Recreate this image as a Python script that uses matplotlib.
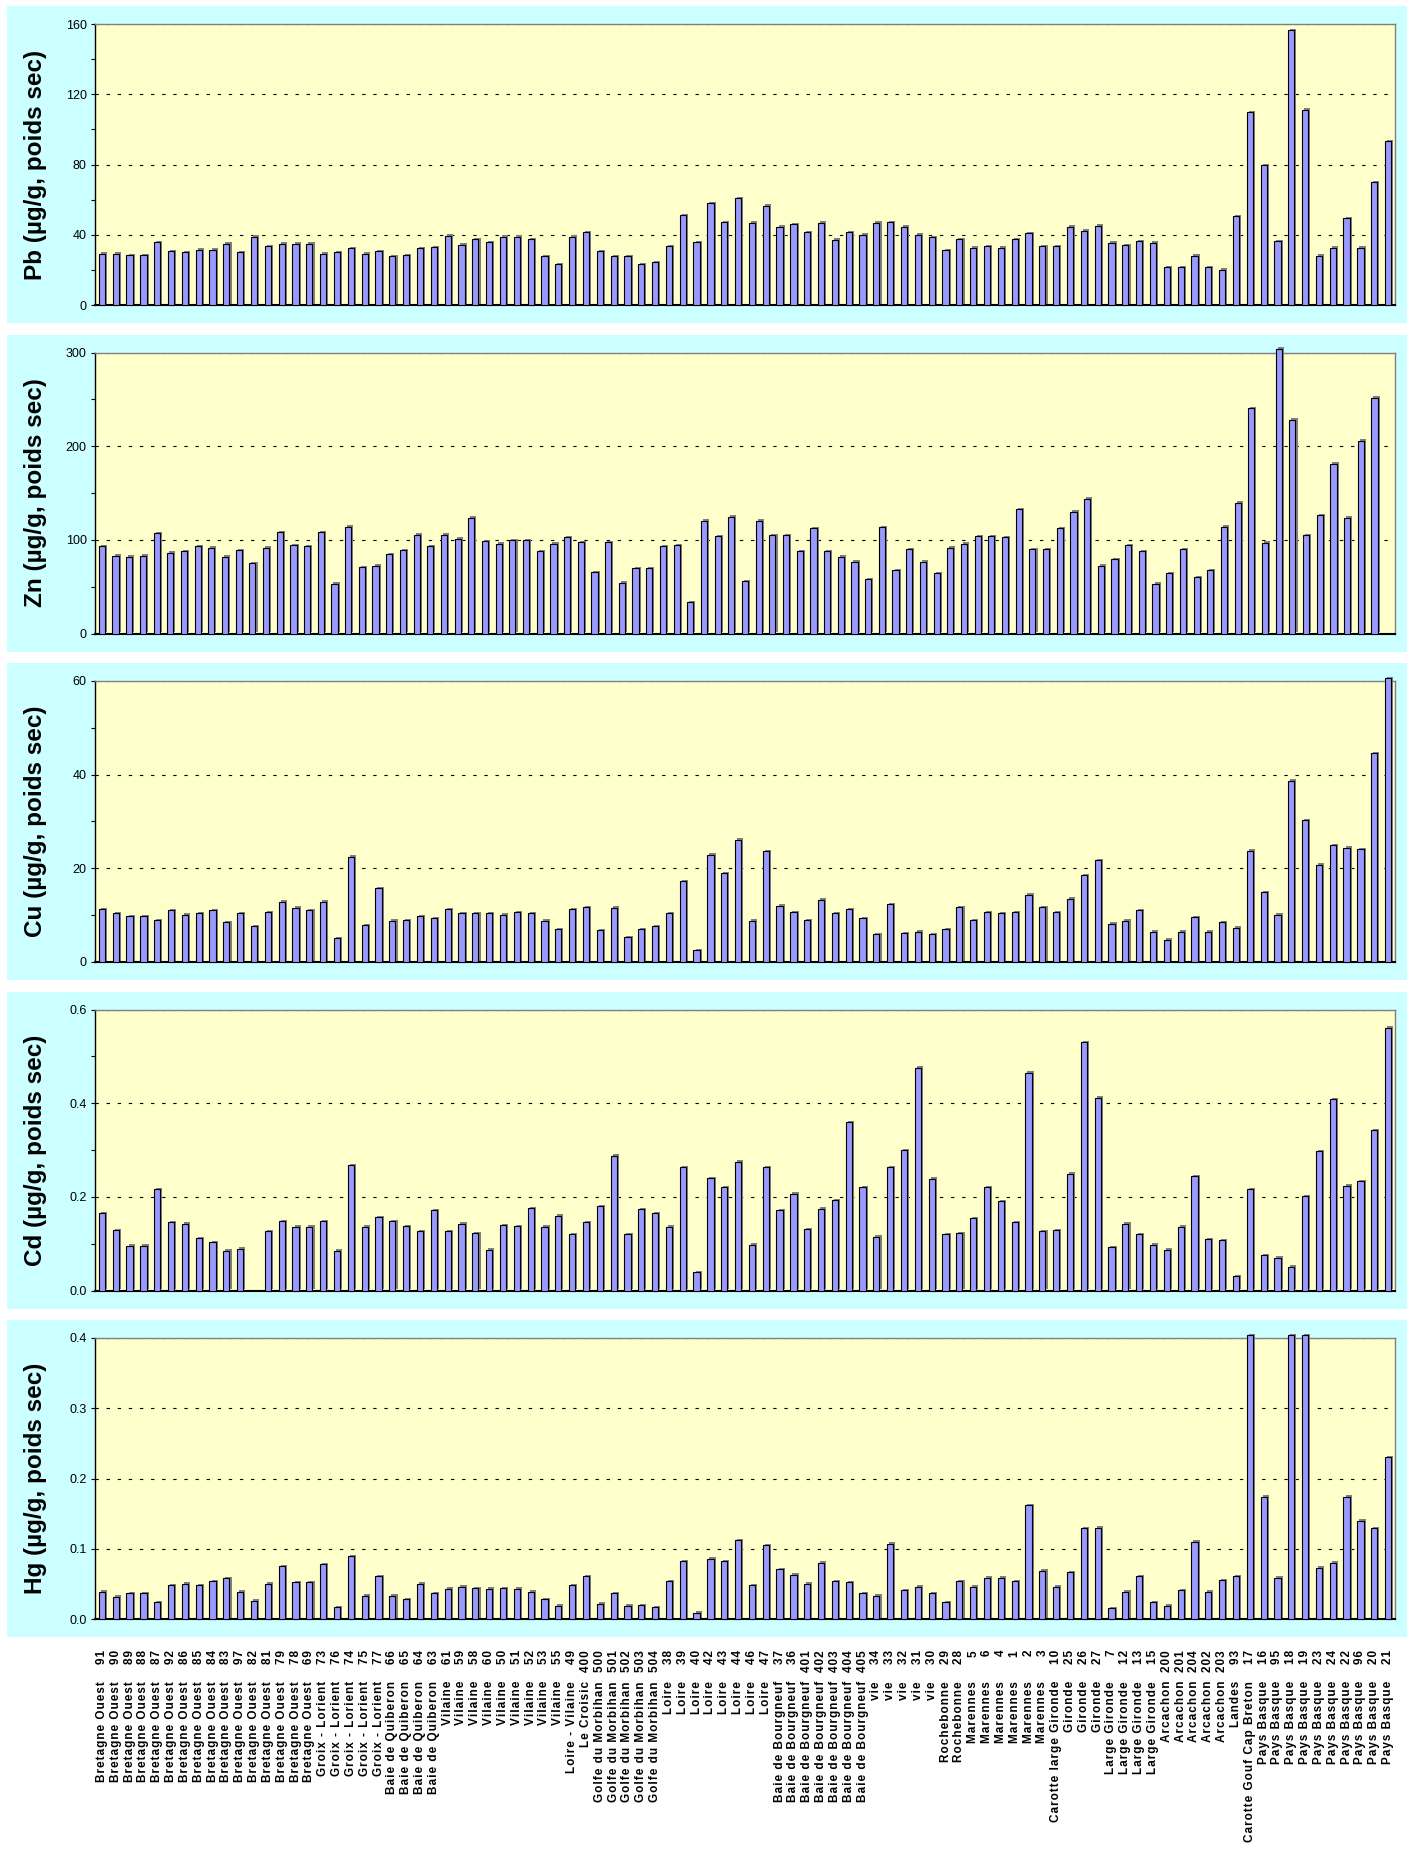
import matplotlib
matplotlib.use('Agg')

import numpy as np
import matplotlib.pyplot as plt
import matplotlib.transforms as mtransforms
from matplotlib.patches import Rectangle
from matplotlib import patheffects
from matplotlib.ticker import MultipleLocator, FormatStrFormatter

plt.rcParams['font.family'] = ['Liberation Sans', 'DejaVu Sans']

## SAMPLING STATIONS ##
site_groups = [
    ("Bretagne Ouest", 16), ("Groix - Lorient", 5), ("Baie de Quiberon", 4),
    ("Vilaine", 9), ("Loire - Vilaine", 1), ("Le Croisic", 1),
    ("Golfe du Morbihan", 5), ("Loire", 8), ("Baie de Bourgneuf", 7),
    ("vie", 5), ("Rochebonne", 2), ("Marennes", 6),
    ("Carotte large Gironde", 1), ("Gironde", 3), ("Large Gironde", 4),
    ("Arcachon", 5), ("Landes", 1), ("Carotte Gouf Cap Breton", 1),
    ("Pays Basque", 10),
]
station_ids = [
    "91", "90", "89", "88", "87", "92", "86", "85", "84", "83", "97", "82", "81", "79", "78", "69",
    "73", "76", "74", "75", "77",
    "66", "65", "64", "63",
    "61", "59", "58", "60", "50", "51", "52", "53", "55",
    "49", "400",
    "500", "501", "502", "503", "504",
    "38", "39", "40", "42", "43", "44", "46", "47",
    "37", "36", "401", "402", "403", "404", "405",
    "34", "33", "32", "31", "30",
    "29", "28",
    "5", "6", "4", "1", "2", "3",
    "10",
    "25", "26", "27",
    "7", "12", "13", "15",
    "200", "201", "204", "202", "203",
    "93", "17",
    "16", "95", "18", "19", "23", "24", "22", "96", "20", "21",
]
sites = [name for name, n in site_groups for _ in range(n)]

## CONCENTRATIONS (ug/g dry weight) ##
pb = [29.2, 29.2, 28.5, 28.5, 35.8, 30.8, 30.1, 31.5, 31.5, 35.0,
      30.1, 38.8, 33.6, 35.0, 35.0, 35.0, 29.2, 30.1, 32.2, 29.2,
      30.8, 27.8, 28.5, 32.2, 32.9, 39.5, 34.4, 37.4, 35.8, 38.8,
      38.8, 37.4, 27.8, 23.1, 38.8, 41.6, 30.8, 27.8, 27.8, 23.1,
      24.2, 33.6, 51.3, 35.8, 57.9, 47.3, 60.7, 46.8, 56.5, 44.5,
      46.1, 41.6, 46.8, 37.2, 41.6, 40.0, 46.8, 47.3, 44.5, 40.0,
      38.6, 31.3, 37.6, 32.7, 33.4, 32.7, 37.6, 40.9, 33.4, 33.4,
      44.5, 42.4, 45.2, 35.5, 34.1, 36.5, 35.5, 21.4, 21.4, 28.0,
      21.4, 20.2, 50.6, 109.9, 79.5, 36.5, 156.5, 111.3, 28.0, 32.7,
      49.6, 32.7, 69.9, 93.4]

zn = [92.9, 83.2, 81.9, 83.2, 106.9, 86.3, 87.6, 92.9, 91.5, 81.9,
      88.9, 75.3, 91.5, 108.2, 94.2, 92.9, 108.2, 53.0, 113.9, 71.0,
      72.3, 84.5, 88.9, 105.6, 92.9, 105.6, 101.2, 123.5, 98.6, 95.9,
      99.9, 99.9, 87.6, 95.9, 102.5, 97.2, 65.3, 97.2, 54.3, 69.6,
      69.6, 92.9, 94.2, 33.7, 120.5, 103.8, 124.8, 55.6, 120.5, 105.1,
      105.1, 87.6, 112.1, 87.6, 81.9, 76.7, 58.3, 113.4, 67.9, 90.2,
      76.7, 64.4, 91.5, 95.9, 103.8, 103.8, 102.5, 132.7, 90.2, 90.2,
      112.1, 130.1, 144.1, 72.3, 79.3, 94.2, 87.6, 53.0, 64.4, 90.2,
      60.0, 67.9, 113.9, 139.7, 240.5, 96.8, 304.0, 228.2, 105.1, 126.1,
      181.3, 123.5, 205.9, 251.9]

cu = [11.3, 10.4, 9.8, 9.8, 8.9, 11.0, 10.1, 10.4, 11.0, 8.5,
      10.4, 7.6, 10.6, 12.9, 11.6, 11.0, 12.9, 5.1, 22.5, 7.9,
      15.7, 8.8, 8.9, 9.8, 9.3, 11.3, 10.4, 10.4, 10.4, 10.1,
      10.6, 10.4, 8.8, 7.0, 11.3, 11.7, 6.8, 11.6, 5.3, 7.0,
      7.6, 10.4, 17.3, 2.5, 22.9, 19.0, 26.1, 8.8, 23.6, 12.0,
      10.6, 8.9, 13.3, 10.4, 11.3, 9.3, 6.0, 12.4, 6.2, 6.5,
      6.0, 7.0, 11.7, 8.9, 10.6, 10.4, 10.6, 14.4, 11.7, 10.6,
      13.5, 18.6, 21.7, 8.2, 8.8, 11.0, 6.5, 4.8, 6.5, 9.6,
      6.5, 8.5, 7.3, 23.8, 14.9, 10.1, 38.7, 30.3, 20.8, 25.0,
      24.4, 24.1, 44.6, 60.6]

cd = [0.165, 0.129, 0.096, 0.096, 0.216, 0.146, 0.143, 0.112, 0.103, 0.085,
      0.089, np.nan, 0.126, 0.148, 0.136, 0.136, 0.148, 0.085, 0.267, 0.136,
      0.157, 0.148, 0.137, 0.126, 0.171, 0.126, 0.143, 0.123, 0.087, 0.139,
      0.137, 0.176, 0.136, 0.160, 0.120, 0.146, 0.180, 0.288, 0.120, 0.173,
      0.165, 0.136, 0.263, 0.039, 0.240, 0.221, 0.275, 0.098, 0.263, 0.171,
      0.207, 0.131, 0.175, 0.193, 0.359, 0.221, 0.115, 0.263, 0.300, 0.476,
      0.239, 0.120, 0.123, 0.154, 0.221, 0.191, 0.146, 0.465, 0.126, 0.129,
      0.249, 0.530, 0.412, 0.092, 0.143, 0.120, 0.098, 0.087, 0.136, 0.244,
      0.110, 0.107, 0.031, 0.216, 0.075, 0.070, 0.051, 0.201, 0.297, 0.409,
      0.224, 0.233, 0.342, 0.561]

hg = [0.039, 0.032, 0.037, 0.037, 0.024, 0.048, 0.050, 0.048, 0.054, 0.058,
      0.039, 0.026, 0.050, 0.075, 0.052, 0.052, 0.078, 0.017, 0.089, 0.033,
      0.061, 0.033, 0.028, 0.050, 0.037, 0.043, 0.046, 0.044, 0.043, 0.044,
      0.043, 0.039, 0.028, 0.019, 0.048, 0.061, 0.022, 0.037, 0.019, 0.020,
      0.017, 0.054, 0.082, 0.009, 0.086, 0.082, 0.112, 0.048, 0.105, 0.071,
      0.063, 0.050, 0.080, 0.054, 0.052, 0.037, 0.033, 0.107, 0.041, 0.046,
      0.037, 0.024, 0.054, 0.046, 0.059, 0.059, 0.054, 0.162, 0.069, 0.046,
      0.067, 0.129, 0.130, 0.015, 0.039, 0.061, 0.024, 0.019, 0.041, 0.110,
      0.039, 0.055, 0.061, 0.404, 0.174, 0.059, 0.404, 0.404, 0.073, 0.080,
      0.174, 0.140, 0.129, 0.230]

# metal, values, ymax, major step, minor step, tick format, number of category slots
panels = [
    ("Pb", pb, 160, 40, 20, '%d', 94),
    ("Zn", zn, 300, 100, 50, '%d', 95),
    ("Cu", cu, 60, 20, 10, '%d', 94),
    ("Cd", cd, 0.6, 0.2, 0.1, '%.1f', 94),
    ("Hg", hg, 0.4, 0.1, None, '%.1f', 94),
]

W, H = 1409, 1854
fig = plt.figure(figsize=(W / 100, H / 100), dpi=100)

PERIOD = 328.5
shadow = [patheffects.SimplePatchShadow(offset=(1.5, 1.0), shadow_rgbFace='#7f7f7f', alpha=1.0),
          patheffects.Normal()]


def spaced(s):
    # the original labels are letter-spaced; fake it with hair spaces
    return '\u200a'.join(s)


axes = []
for k, (metal, vals, ymax, major, minor, fmt, nslots) in enumerate(panels):
    cyan_top = 6 + PERIOD * k
    fig.add_artist(Rectangle((7 / W, 1 - (cyan_top + 317) / H), 1400 / W, 317 / H,
                             transform=fig.transFigure, facecolor='#CCFFFF',
                             edgecolor='none', zorder=-5))
    plot_top = cyan_top + 18
    ax = fig.add_axes([95 / W, 1 - (plot_top + 281) / H, 1300 / W, 281 / H])
    ax.set_facecolor('#FFFFCC')

    x = np.arange(len(vals))
    ax.bar(x, vals, width=0.45, color='#9999FF', edgecolor='black', linewidth=0.8,
           clip_on=False, zorder=3, path_effects=shadow)

    ax.set_xlim(-0.5, nslots - 0.5)
    ax.set_ylim(0, ymax)
    ax.yaxis.set_major_locator(MultipleLocator(major))
    if minor:
        ax.yaxis.set_minor_locator(MultipleLocator(minor))
    ax.yaxis.set_major_formatter(FormatStrFormatter(fmt))
    ax.yaxis.grid(True, which='major', color='black', linestyle=(0, (3, 7)), linewidth=0.8)
    ax.set_axisbelow(True)
    ax.set_xticks([])
    ax.tick_params(axis='y', which='both', direction='out', length=3, width=0.8,
                   labelsize=9, pad=3)

    for side in ['top', 'right']:
        ax.spines[side].set_color('#808080')
        ax.spines[side].set_linewidth(1.0)
    ax.spines['left'].set_linewidth(1.0)
    ax.spines['bottom'].set_linewidth(1.5)

    ax.set_ylabel(metal + " (\u00b5g/g, poids sec)", fontsize=17.5, fontweight='bold')
    ax.yaxis.set_label_coords(-0.0454, 0.5)
    ax.yaxis.label.set_verticalalignment('center')
    axes.append(ax)

# category labels under the last panel: station number on top, site name below
ax = axes[-1]
trans = mtransforms.blended_transform_factory(ax.transData, fig.transFigure)
for i, (name, sid) in enumerate(zip(sites, station_ids)):
    ax.text(i, 1 - 1650 / H, spaced(sid), transform=trans, rotation=90, ha='center', va='top',
            fontsize=8.5, fontweight='bold')
    ax.text(i, 1 - 1681 / H, spaced(name), transform=trans, rotation=90, ha='center', va='top',
            fontsize=8.5, fontweight='bold')

fig.savefig('out.png', dpi=100)
